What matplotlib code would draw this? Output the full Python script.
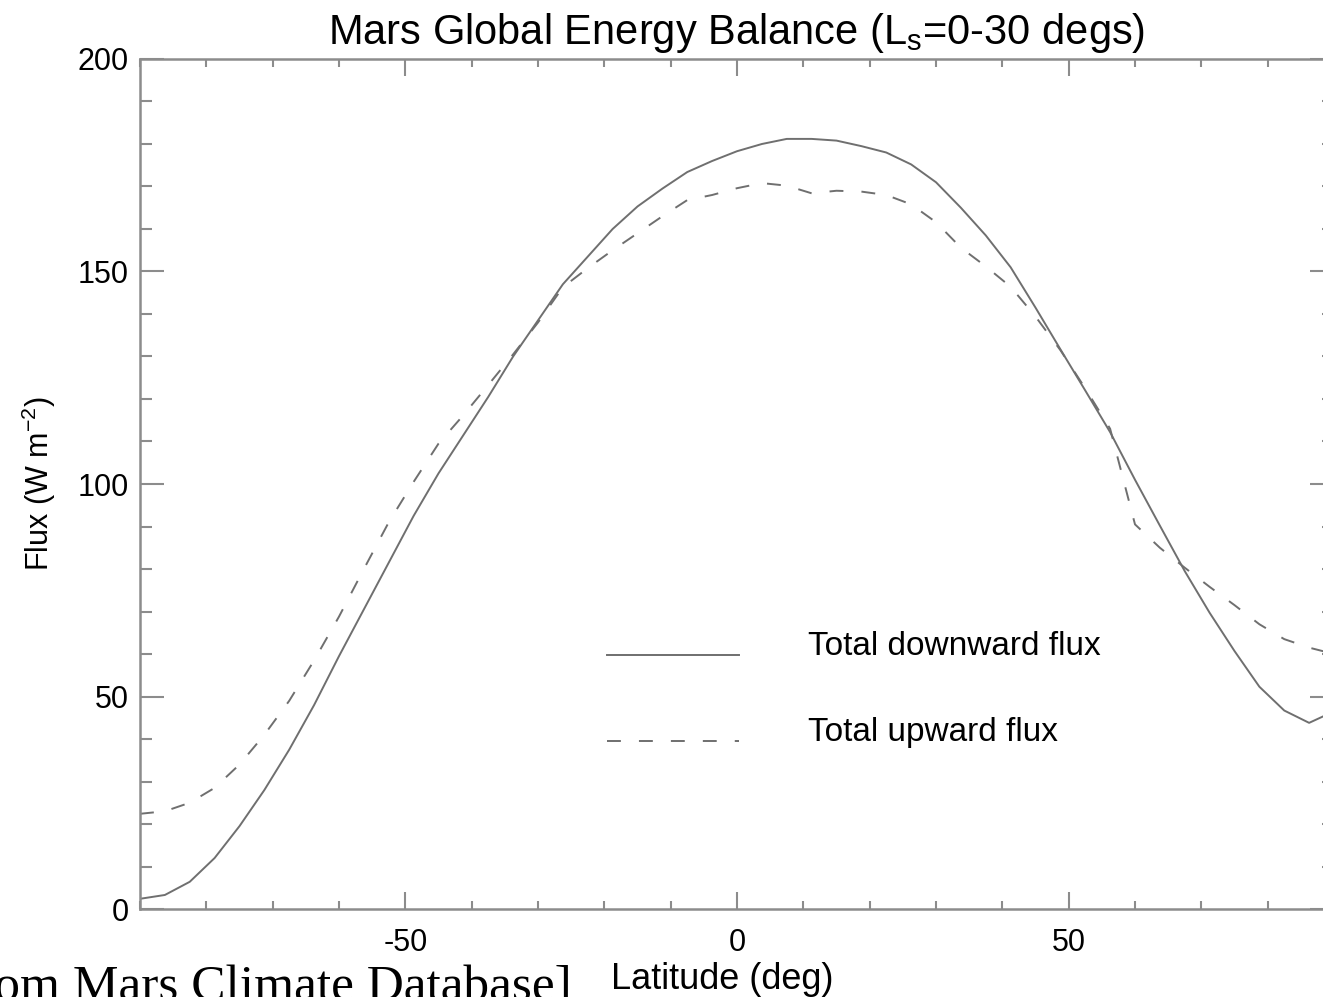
import numpy as np
import matplotlib.pyplot as plt
from matplotlib.legend_handler import HandlerLine2D
from matplotlib.ticker import MultipleLocator

plt.rcParams['font.family'] = ['Liberation Sans', 'DejaVu Sans']
plt.rcParams['mathtext.fontset'] = 'custom'
plt.rcParams['mathtext.rm'] = 'Liberation Sans'
plt.rcParams['mathtext.it'] = 'Liberation Sans'
plt.rcParams['lines.scale_dashes'] = False
plt.rcParams['axes.unicode_minus'] = False

# latitude grid of the model (3.75 deg)
latitude = np.arange(-90, 90.01, 3.75)

downward_flux = [
    2.4, 3.3, 6.4, 12.0, 19.5, 28.0, 37.5, 48.0, 59.5, 70.5,
    81.5, 92.5, 102.5, 111.5, 120.5, 130.0, 138.5, 147.0, 153.5, 160.0,
    165.3, 169.5, 173.4, 176.0, 178.3, 180.0, 181.2, 181.2, 180.8, 179.5,
    178.0, 175.2, 171.0, 165.0, 158.5, 151.0, 141.5, 131.7, 122.0, 112.2,
    101.0, 90.2, 79.5, 69.7, 60.7, 52.3, 46.7, 43.8, 46.5,
]

upward_flux = [
    22.4, 23.0, 25.0, 28.5, 34.0, 41.0, 49.0, 58.5, 68.8, 80.0,
    91.0, 100.5, 109.5, 116.2, 123.3, 130.5, 138.0, 146.3, 150.8, 155.0,
    159.0, 163.0, 166.8, 168.0, 169.6, 170.8, 170.2, 168.4, 169.0, 168.8,
    168.0, 165.8, 161.6, 155.6, 151.2, 146.4, 139.4, 131.5, 122.5, 113.0,
    90.5, 85.0, 80.3, 75.8, 71.5, 67.0, 63.5, 61.5, 60.0,
]

line_color = "#6f6f6f"
axis_color = "#8c8c8c"


class LowLine(HandlerLine2D):
    # legend sample sits a bit below the text middle, like the IDL original
    def create_artists(self, legend, orig_handle, xdescent, ydescent, width, height,
                       fontsize, trans):
        arts = super().create_artists(legend, orig_handle, xdescent, ydescent, width,
                                      height, fontsize, trans)
        for a in arts:
            a.set_ydata(np.asarray(a.get_ydata()) - 0.36 * fontsize)
        return arts


fig = plt.figure(figsize=(13.23, 9.97), dpi=100)
ax = fig.add_axes([140 / 1323, 88 / 997, 1194 / 1323, 850 / 997])

l1, = ax.plot(latitude, downward_flux, color=line_color, lw=1.4, label="Total downward flux")
l2, = ax.plot(latitude, upward_flux, color=line_color, lw=1.4, dashes=(10, 13),
              label="Total upward flux")

ax.set_xlim(-90, 90)
ax.set_ylim(0, 200)
ax.xaxis.set_major_locator(MultipleLocator(50))
ax.xaxis.set_minor_locator(MultipleLocator(10))
ax.yaxis.set_major_locator(MultipleLocator(50))
ax.yaxis.set_minor_locator(MultipleLocator(10))

for s in ax.spines.values():
    s.set_color(axis_color)
    s.set_linewidth(1.8)

ax.tick_params(axis="both", which="both", direction="in", color=axis_color,
               width=1.5, labelsize=22, top=True, right=True)
ax.tick_params(axis="x", which="major", length=12.2, pad=14)
ax.tick_params(axis="x", which="minor", length=6.1)
ax.tick_params(axis="y", which="major", length=17.2, pad=8)
ax.tick_params(axis="y", which="minor", length=8.6)

ax.set_title("Mars Global Energy Balance (L$_\\mathrm{s}$=0-30 degs)", fontsize=30, pad=11)
ax.set_xlabel("Latitude (deg)", fontsize=26)
ax.xaxis.set_label_coords(0.488, -0.062)
ax.set_ylabel("Flux (W m$^{-2}$)", fontsize=22, labelpad=14)

ax.legend(loc="upper left", bbox_to_anchor=(0.366, 0.3625), frameon=False, fontsize=24,
          handlelength=3.96, handletextpad=2.07, labelspacing=1.64,
          handler_map={l1: LowLine(), l2: LowLine()})

fig.text(572 / 1323, -3 / 997, "[from Mars Climate Database]", ha="right", va="baseline",
         fontsize=37, family="Liberation Serif")

fig.savefig("out.png", dpi=100)
